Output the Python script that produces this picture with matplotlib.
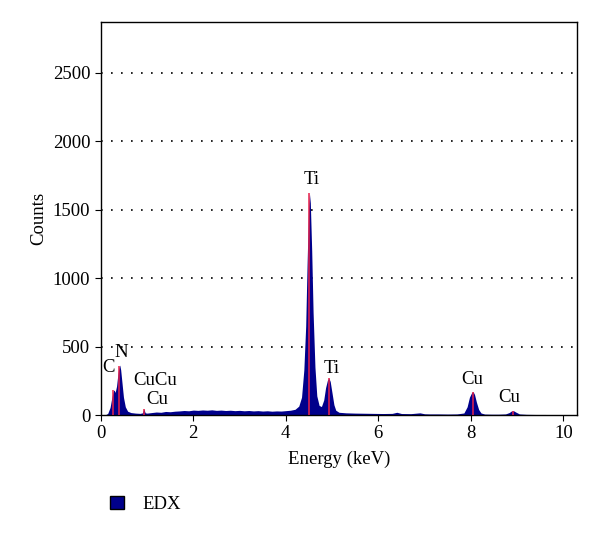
import matplotlib
matplotlib.use("Agg")
import matplotlib.pyplot as plt
from matplotlib.patches import Patch

plt.rcParams["font.family"] = ["Liberation Serif", "DejaVu Serif"]

# spectrum (keV, counts)
energy = [0.00, 0.10, 0.15, 0.20, 0.24, 0.27, 0.29, 0.31, 0.34, 0.37, 0.39, 0.41,
          0.43, 0.46, 0.49, 0.53, 0.58, 0.65, 0.75, 0.85, 0.90, 0.93, 0.96, 1.00,
          1.10, 1.20, 1.30, 1.40, 1.50, 1.60, 1.70, 1.80, 1.90, 2.00, 2.10, 2.20,
          2.30, 2.40, 2.50, 2.60, 2.70, 2.80, 2.90, 3.00, 3.10, 3.20, 3.30, 3.40,
          3.50, 3.60, 3.70, 3.80, 3.90, 4.00, 4.10, 4.20, 4.28, 4.34, 4.39, 4.43,
          4.46, 4.49, 4.51, 4.53, 4.56, 4.59, 4.63, 4.67, 4.72, 4.77, 4.82, 4.86,
          4.90, 4.93, 4.96, 5.00, 5.04, 5.08, 5.15, 5.30, 5.50, 5.70, 5.90, 6.10,
          6.30, 6.40, 6.50, 6.70, 6.90, 7.00, 7.10, 7.30, 7.50, 7.70, 7.85, 7.92,
          7.97, 8.02, 8.05, 8.08, 8.12, 8.17, 8.22, 8.30, 8.45, 8.60, 8.75, 8.83,
          8.88, 8.92, 8.97, 9.05, 9.20, 9.40, 9.60, 9.80, 10.00, 10.20, 10.30]
counts = [0, 2, 12, 55, 130, 175, 183, 165, 210, 300, 345, 365,
          330, 230, 130, 60, 28, 18, 14, 12, 16, 45, 16, 14,
          18, 22, 20, 26, 24, 28, 30, 33, 31, 36, 34, 37,
          35, 38, 34, 36, 33, 35, 32, 34, 31, 33, 30, 32,
          29, 31, 28, 30, 29, 32, 35, 42, 65, 130, 330, 650,
          1100, 1500, 1620, 1550, 1200, 750, 350, 140, 70, 62, 110, 200,
          255, 270, 245, 160, 75, 35, 20, 16, 14, 13, 12, 11,
          12, 20, 11, 10, 16, 9, 8, 8, 7, 8, 15, 60,
          130, 165, 170, 150, 95, 40, 15, 7, 6, 6, 8, 18,
          30, 32, 22, 8, 5, 4, 4, 3, 3, 3, 3]

# marker lines and labels
line_energy = [0.27, 0.40, 0.93, 4.51, 4.93, 8.05, 8.91]
line_counts = [180, 360, 45, 1620, 270, 170, 32]
label_text = ["C", "N", "CuCu", "Cu", "Ti", "Ti", "Cu", "Cu"]
label_x = [0.17, 0.45, 1.17, 1.22, 4.55, 5.00, 8.03, 8.83]
label_y = [350, 455, 250, 110, 1720, 340, 260, 125]

fig = plt.figure(figsize=(6.0, 5.39), dpi=100)
ax = fig.add_axes([0.168, 0.230, 0.794, 0.729])

ax.fill_between(energy, counts, 0, color="#00008b", lw=0, zorder=2)
ax.vlines(line_energy, 0, line_counts, color="#e8204a", lw=1.1, zorder=3)

for t, x, y in zip(label_text, label_x, label_y):
    ax.text(x, y, t, ha="center", va="center", fontsize=13.5, zorder=4)

ax.set_xlim(0, 10.3)
ax.set_ylim(0, 2870)
ax.set_xticks([0, 2, 4, 6, 8, 10])
ax.set_yticks([0, 500, 1000, 1500, 2000, 2500])
for yv in [500, 1000, 1500, 2000, 2500]:
    ax.axhline(yv, color="black", lw=1.2, ls=(0, (1, 5)), zorder=1)
ax.tick_params(labelsize=13.5, direction="out", length=4)
ax.set_xlabel("Energy (keV)", fontsize=13.5, labelpad=6)
ax.set_ylabel("Counts", fontsize=13.5, labelpad=4)
for s in ax.spines.values():
    s.set_linewidth(1.0)

fig.legend(handles=[Patch(facecolor="#00008b", edgecolor="black", label="EDX")],
           loc="lower left", bbox_to_anchor=(0.183, 0.048), frameon=False,
           borderpad=0, borderaxespad=0, fontsize=13.5,
           handlelength=0.75, handleheight=0.75, handletextpad=1.0)

fig.savefig("out.png", dpi=100)
